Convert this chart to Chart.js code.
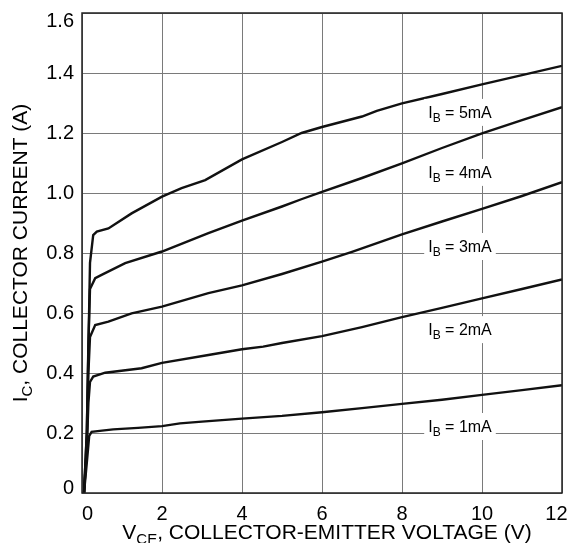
<!DOCTYPE html>
<html>
<head>
<meta charset="utf-8">
<script src="https://cdn.jsdelivr.net/npm/chart.js@4/dist/chart.umd.min.js"></script>
<style>
html,body{margin:0;padding:0;background:#fff;}
#wrap{width:571px;height:543px;position:relative;}
</style>
</head>
<body>
<div id="wrap"><canvas id="c" width="571" height="543"></canvas></div>
<script>
// ---- data ----
const ib1V = [0.05,0.12,0.18,0.24,0.5,0.78,1.4,2,2.45,3,4,5,6,7,8,9,10,11,12];
const ib1I = [0,0.1,0.19,0.204,0.208,0.212,0.217,0.223,0.232,0.238,0.248,0.257,0.269,0.283,0.297,0.311,0.327,0.343,0.359];

const ib2V = [0.05,0.12,0.16,0.2,0.28,0.58,1.49,2,3.16,4,4.53,5,6,7,8,9,10,11,12];
const ib2I = [0,0.15,0.3,0.37,0.388,0.401,0.416,0.434,0.46,0.479,0.488,0.5,0.523,0.553,0.586,0.617,0.649,0.68,0.712];

const ib3V = [0.05,0.12,0.16,0.2,0.33,0.66,1.24,2,3.16,4,5,6,6.75,8,9,10,11,12];
const ib3I = [0,0.15,0.4,0.52,0.56,0.571,0.599,0.621,0.666,0.692,0.73,0.771,0.804,0.862,0.905,0.947,0.99,1.036];

const ib4V = [0.05,0.12,0.16,0.2,0.33,0.49,1.08,2,3.16,4,5,5.5,6,7,8,9,10,11,12];
const ib4I = [0,0.2,0.5,0.68,0.716,0.727,0.766,0.805,0.866,0.908,0.955,0.98,1.004,1.05,1.099,1.15,1.199,1.243,1.286];

const ib5V = [0.05,0.12,0.17,0.2,0.28,0.37,0.66,1.24,2,2.49,3.08,4,5,5.49,6,7,7.37,8,9,10,11,12];
const ib5I = [0,0.2,0.55,0.767,0.86,0.871,0.882,0.932,0.988,1.016,1.043,1.112,1.17,1.2,1.22,1.255,1.274,1.299,1.33,1.362,1.393,1.424];

const curveNames = ['1mA','2mA','3mA','4mA','5mA'];
const labelX = [9.45,9.45,9.45,9.45,9.45];
const labelY = [0.22,0.543,0.82,1.067,1.267];

const xTicks = [0,2,4,6,8,10,12];
const yTicks = [0,0.2,0.4,0.6,0.8,1.0,1.2,1.4,1.6];

const xTitleMain = 'V', xTitleSub = 'CE', xTitleRest = ', COLLECTOR-EMITTER VOLTAGE (V)';
const yTitleMain = 'I', yTitleSub = 'C', yTitleRest = ', COLLECTOR CURRENT (A)';

// ---- build ----
const zip = (v,i)=>v.map((x,k)=>({x:x,y:i[k]}));
const series = [zip(ib1V,ib1I),zip(ib2V,ib2I),zip(ib3V,ib3I),zip(ib4V,ib4I),zip(ib5V,ib5I)];

const FONT = '"Liberation Sans", Arial, Helvetica, sans-serif';
const X_MIN = xTicks[0], X_MAX = xTicks[xTicks.length-1];
const Y_MIN = yTicks[0], Y_MAX = yTicks[yTicks.length-1];

const labelPlugin = {
  id:'ibLabels',
  afterDatasetsDraw(chart){
    const {ctx, scales:{x,y}} = chart;
    curveNames.forEach((n,i)=>{
      const cx = x.getPixelForValue(labelX[i]);
      const cy = y.getPixelForValue(labelY[i]);
      ctx.save();
      const big = '16px '+FONT, small = '12px '+FONT;
      ctx.font = big;
      const wI = ctx.measureText('I').width;
      const rest = ' = '+n;
      const wR = ctx.measureText(rest).width;
      ctx.font = small;
      const wB = ctx.measureText('B').width;
      const w = wI+wB+wR;
      ctx.fillStyle = '#fff';
      ctx.fillRect(cx-w/2-4, cy-14, w+8, 27);
      ctx.fillStyle = '#000';
      ctx.textBaseline = 'alphabetic';
      ctx.textAlign = 'left';
      let px = cx-w/2;
      const base = cy+5;
      ctx.font = big; ctx.fillText('I',px,base); px += wI;
      ctx.font = small; ctx.fillText('B',px,base+4); px += wB;
      ctx.font = big; ctx.fillText(rest,px,base);
      ctx.restore();
    });
  }
};

function drawSubText(ctx, main, sub, rest, size, subSize){
  ctx.font = size+'px '+FONT;
  const wM = ctx.measureText(main).width;
  const wRest = ctx.measureText(rest).width;
  ctx.font = subSize+'px '+FONT;
  const wS = ctx.measureText(sub).width;
  const w = wM+wS+wRest;
  let px = -w/2;
  ctx.font = size+'px '+FONT; ctx.fillText(main,px,0); px += wM;
  ctx.font = subSize+'px '+FONT; ctx.fillText(sub,px,5); px += wS;
  ctx.font = size+'px '+FONT; ctx.fillText(rest,px,0);
}

const framePlugin = {
  id:'frameTitles',
  afterDraw(chart){
    const {ctx, chartArea:a} = chart;
    ctx.save();
    ctx.strokeStyle = '#222';
    ctx.lineWidth = 1.5;
    ctx.strokeRect(a.left, a.top, a.right-a.left, a.bottom-a.top);
    ctx.fillStyle = '#000';
    ctx.textAlign = 'left';
    ctx.textBaseline = 'alphabetic';
    // x title
    ctx.save();
    ctx.translate((a.left+a.right)/2+5, 539);
    drawSubText(ctx, xTitleMain, xTitleSub, xTitleRest, 21, 15);
    ctx.restore();
    // y title
    ctx.save();
    ctx.translate(27, (a.top+a.bottom)/2);
    ctx.rotate(-Math.PI/2);
    drawSubText(ctx, yTitleMain, yTitleSub, yTitleRest, 21, 15);
    ctx.restore();
    ctx.restore();
  }
};

new Chart(document.getElementById('c'), {
  type:'line',
  data:{
    datasets: series.map((d,i)=>({
      label:'IB = '+curveNames[i],
      data:d,
      borderColor:'#111',
      borderWidth:2.4,
      pointRadius:0,
      tension:0,
      fill:false
    }))
  },
  options:{
    responsive:false,
    animation:false,
    layout:{padding:{top:13,right:9,left:0,bottom:0}},
    plugins:{legend:{display:false},tooltip:{enabled:false}},
    scales:{
      x:{
        type:'linear', min:X_MIN, max:X_MAX,
        afterBuildTicks(s){ s.ticks = xTicks.map(v=>({value:v})); },
        afterFit(s){ s.height = 50; s.paddingLeft = 0; s.paddingRight = 0; },
        ticks:{ font:{family:FONT,size:20}, color:'#000', padding:9, maxRotation:0,
          callback:(v)=> v===X_MIN ? '  '+v : (v===X_MAX ? v+'  ' : String(v)) },
        grid:{ color:'#7a7a7a', lineWidth:1, drawTicks:false },
        border:{ display:false }
      },
      y:{
        type:'linear', min:Y_MIN, max:Y_MAX,
        afterBuildTicks(s){ s.ticks = yTicks.map(v=>({value:v})); },
        afterFit(s){ s.width = 82; s.paddingTop = 0; s.paddingBottom = 0; },
        ticks:{
          font:(c)=>{
            const v = c.tick ? c.tick.value : null;
            return {family:FONT, size:20, lineHeight: v===Y_MAX ? '16px' : (v===Y_MIN ? '10px' : 1.2)};
          },
          color:'#000', padding:8,
          callback:(v)=> v===Y_MIN ? ['0',''] : (v===Y_MAX ? ['', Number(v).toFixed(1)] : Number(v).toFixed(1)) },
        grid:{ color:'#7a7a7a', lineWidth:1, drawTicks:false },
        border:{ display:false }
      }
    }
  },
  plugins:[labelPlugin, framePlugin]
});
</script>
</body>
</html>
